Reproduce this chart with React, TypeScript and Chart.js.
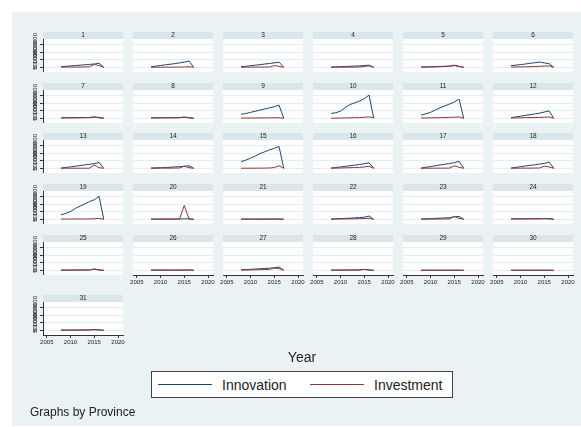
import React, { useEffect, useRef } from "react";
import { Chart, registerables } from "chart.js";

Chart.register(...registerables);

const years = [2008, 2009, 2010, 2011, 2012, 2013, 2014, 2015, 2016, 2017];
const provinces = Array.from({ length: 31 }, (_, i) => String(i + 1));
const yTickValues = [0, 500000, 1000000, 1500000];
const xTickValues = [2005, 2010, 2015, 2020];
const seriesNames = ["Innovation", "Investment"];
const xAxisTitle = "Year";
const noteText = "Graphs by Province";

const innovation: number[][] = [
  [50000, 75000, 100000, 125000, 150000, 175000, 200000, 225000, 275000, 10000],
  [50000, 90000, 130000, 170000, 210000, 250000, 300000, 350000, 425000, 10000],
  [50000, 75000, 110000, 150000, 185000, 225000, 260000, 300000, 350000, 10000],
  [25000, 40000, 50000, 60000, 75000, 90000, 100000, 125000, 150000, 10000],
  [25000, 35000, 45000, 55000, 65000, 75000, 90000, 150000, 75000, 10000],
  [125000, 150000, 190000, 225000, 275000, 310000, 360000, 300000, 250000, 10000],
  [40000, 45000, 50000, 50000, 55000, 60000, 65000, 100000, 60000, 10000],
  [40000, 40000, 45000, 45000, 50000, 50000, 55000, 90000, 50000, 10000],
  [275000, 325000, 400000, 475000, 550000, 625000, 700000, 775000, 875000, 10000],
  [330000, 375000, 485000, 725000, 920000, 1025000, 1150000, 1300000, 1540000, 10000],
  [225000, 300000, 400000, 550000, 700000, 825000, 950000, 1075000, 1275000, 10000],
  [50000, 100000, 150000, 200000, 250000, 300000, 350000, 425000, 500000, 10000],
  [25000, 65000, 105000, 150000, 190000, 230000, 275000, 315000, 400000, 10000],
  [25000, 40000, 50000, 65000, 80000, 100000, 115000, 140000, 175000, 10000],
  [450000, 550000, 675000, 825000, 975000, 1100000, 1225000, 1325000, 1450000, 10000],
  [25000, 60000, 100000, 140000, 180000, 220000, 260000, 310000, 375000, 10000],
  [25000, 75000, 125000, 175000, 225000, 275000, 325000, 375000, 475000, 10000],
  [25000, 70000, 115000, 160000, 200000, 240000, 285000, 330000, 425000, 10000],
  [310000, 400000, 525000, 725000, 875000, 1025000, 1175000, 1300000, 1525000, 10000],
  [25000, 25000, 30000, 30000, 30000, 35000, 35000, 40000, 45000, 10000],
  [25000, 25000, 25000, 25000, 25000, 25000, 25000, 30000, 30000, 10000],
  [25000, 40000, 55000, 70000, 85000, 105000, 125000, 150000, 225000, 10000],
  [25000, 40000, 55000, 70000, 85000, 100000, 115000, 175000, 200000, 10000],
  [40000, 40000, 40000, 45000, 45000, 45000, 50000, 55000, 50000, 10000],
  [25000, 25000, 25000, 30000, 30000, 30000, 35000, 100000, 40000, 10000],
  [25000, 25000, 25000, 25000, 25000, 25000, 25000, 30000, 30000, 10000],
  [50000, 60000, 75000, 90000, 110000, 130000, 150000, 175000, 225000, 10000],
  [25000, 25000, 25000, 30000, 30000, 30000, 35000, 75000, 35000, 10000],
  [15000, 15000, 15000, 15000, 15000, 15000, 15000, 15000, 15000, 10000],
  [15000, 15000, 15000, 15000, 15000, 15000, 15000, 15000, 15000, 10000],
  [25000, 25000, 25000, 25000, 30000, 30000, 35000, 60000, 35000, 10000],
];

const investment: number[][] = [
  [25000, 25000, 25000, 25000, 25000, 30000, 50000, 200000, 125000, 10000],
  [15000, 15000, 15000, 20000, 20000, 20000, 25000, 30000, 50000, 10000],
  [20000, 20000, 20000, 20000, 25000, 25000, 30000, 125000, 75000, 10000],
  [15000, 15000, 20000, 20000, 20000, 25000, 30000, 75000, 100000, 10000],
  [20000, 25000, 30000, 40000, 50000, 60000, 75000, 125000, 60000, 10000],
  [25000, 30000, 35000, 40000, 50000, 60000, 75000, 90000, 100000, 10000],
  [35000, 40000, 40000, 45000, 45000, 50000, 55000, 90000, 50000, 10000],
  [35000, 35000, 40000, 40000, 40000, 45000, 50000, 80000, 45000, 10000],
  [25000, 25000, 30000, 30000, 35000, 35000, 40000, 45000, 50000, 10000],
  [15000, 20000, 25000, 30000, 40000, 50000, 60000, 75000, 100000, 50000],
  [25000, 30000, 40000, 45000, 50000, 60000, 70000, 80000, 100000, 10000],
  [30000, 35000, 40000, 50000, 55000, 60000, 70000, 80000, 100000, 10000],
  [15000, 15000, 15000, 15000, 15000, 15000, 20000, 225000, 50000, 10000],
  [15000, 15000, 20000, 20000, 20000, 25000, 30000, 150000, 50000, 10000],
  [15000, 15000, 15000, 20000, 20000, 25000, 30000, 60000, 175000, 10000],
  [15000, 20000, 30000, 40000, 50000, 60000, 70000, 100000, 140000, 10000],
  [15000, 15000, 15000, 20000, 20000, 20000, 25000, 175000, 75000, 10000],
  [15000, 15000, 20000, 20000, 20000, 25000, 30000, 150000, 100000, 10000],
  [25000, 25000, 25000, 30000, 30000, 30000, 35000, 45000, 75000, 10000],
  [15000, 15000, 15000, 15000, 15000, 20000, 25000, 925000, 25000, 10000],
  [20000, 20000, 20000, 20000, 20000, 20000, 20000, 25000, 25000, 10000],
  [20000, 25000, 30000, 35000, 40000, 45000, 50000, 60000, 75000, 10000],
  [20000, 20000, 25000, 25000, 30000, 30000, 40000, 200000, 75000, 10000],
  [35000, 35000, 35000, 40000, 40000, 40000, 40000, 45000, 45000, 10000],
  [20000, 20000, 20000, 25000, 25000, 25000, 30000, 80000, 35000, 10000],
  [20000, 20000, 20000, 20000, 20000, 20000, 20000, 25000, 25000, 10000],
  [25000, 30000, 35000, 40000, 50000, 60000, 75000, 150000, 125000, 10000],
  [20000, 20000, 20000, 25000, 25000, 25000, 30000, 60000, 30000, 10000],
  [12000, 12000, 12000, 12000, 12000, 12000, 12000, 12000, 12000, 8000],
  [12000, 12000, 12000, 12000, 12000, 12000, 12000, 12000, 12000, 8000],
  [20000, 20000, 20000, 20000, 25000, 25000, 30000, 50000, 30000, 10000],
];

const NAVY = "#1A476F";
const MAROON = "#90353B";
const BG = "#EAF2F3";
const STRIP = "#D9E6EB";
const GRID = "#E4EDF0";
const INK = "#222222";
const FONT = '"Liberation Sans", Arial, Helvetica, sans-serif';

const colX = [43, 133, 223, 313, 403, 493];
const rowTop = [32, 83, 133, 184, 235, 295];
const STRIP_H = 7;
const PLOT_W = 80;
const PLOT_H = 33;
const YAXIS_W = 32;
const XAXIS_H = 22;
const SIDE = 8;

const stripPlugin = {
  id: "strip",
  beforeDraw(chart: any, _args: any, opts: any) {
    const { ctx, chartArea: a } = chart;
    ctx.save();
    ctx.fillStyle = STRIP;
    ctx.fillRect(a.left, a.top - STRIP_H, a.right - a.left, STRIP_H);
    ctx.fillStyle = "#ffffff";
    ctx.fillRect(a.left, a.top, a.right - a.left, a.bottom - a.top);
    ctx.fillStyle = INK;
    ctx.font = `6.5px ${FONT}`;
    ctx.textAlign = "center";
    ctx.textBaseline = "middle";
    ctx.fillText(opts.text, (a.left + a.right) / 2, a.top - STRIP_H / 2);
    ctx.restore();
  },
};

function Panel({ index }: { index: number }) {
  const ref = useRef<HTMLCanvasElement>(null);
  const row = Math.floor(index / 6);
  const col = index % 6;
  const isLeft = col === 0;
  const isBottom = index >= 25;
  const padL = isLeft ? 0 : SIDE;
  const axisW = isLeft ? YAXIS_W : 0;
  const left = colX[col] - axisW - padL;
  const width = padL + axisW + PLOT_W + SIDE;
  const height = STRIP_H + PLOT_H + (isBottom ? XAXIS_H : 0);

  useEffect(() => {
    if (!ref.current) return;
    const chart = new Chart(ref.current, {
      type: "line",
      data: {
        datasets: [
          {
            label: seriesNames[0],
            data: years.map((y, i) => ({ x: y, y: innovation[index][i] })),
            borderColor: NAVY,
            borderWidth: 1,
            pointRadius: 0,
            fill: false,
            tension: 0,
            order: 1,
          },
          {
            label: seriesNames[1],
            data: years.map((y, i) => ({ x: y, y: investment[index][i] })),
            borderColor: MAROON,
            borderWidth: 1,
            pointRadius: 0,
            fill: false,
            tension: 0,
            order: 0,
          },
        ],
      },
      options: {
        animation: false,
        responsive: false,
        maintainAspectRatio: false,
        events: [],
        layout: { padding: { top: STRIP_H, left: padL, right: SIDE, bottom: 0 } },
        plugins: {
          legend: { display: false },
          tooltip: { enabled: false },
          title: { display: false },
          strip: { text: provinces[index] },
        } as any,
        scales: {
          x: {
            type: "linear",
            min: 2004.2,
            max: 2021.05,
            display: isBottom,
            afterBuildTicks: (s: any) => {
              s.ticks = xTickValues.map((v) => ({ value: v }));
            },
            afterFit: (s: any) => {
              s.height = isBottom ? XAXIS_H : 0;
              s.paddingLeft = 0;
              s.paddingRight = 0;
            },
            grid: {
              drawOnChartArea: false,
              drawTicks: true,
              tickLength: 3,
              tickColor: "#333",
            },
            border: { display: true, color: "#333", width: 1 },
            ticks: {
              font: { size: 6, family: FONT },
              color: INK,
              padding: 1,
              maxRotation: 0,
              minRotation: 0,
              autoSkip: false,
              callback: (v: any) => String(v),
            },
          },
          y: {
            type: "linear",
            min: -300000,
            max: 1875000,
            display: true,
            afterBuildTicks: (s: any) => {
              s.ticks = yTickValues.map((v) => ({ value: v }));
            },
            afterFit: (s: any) => {
              s.width = axisW;
              s.paddingTop = 0;
              s.paddingBottom = 0;
            },
            grid: {
              color: GRID,
              lineWidth: 1,
              drawTicks: isLeft,
              tickLength: 3,
              tickColor: "#333",
            },
            border: { display: isLeft, color: "#333", width: 1 },
            ticks: {
              display: isLeft,
              minRotation: 90,
              maxRotation: 90,
              crossAlign: "center",
              padding: -7,
              autoSkip: false,
              font: { size: 6, family: FONT },
              color: INK,
              callback: (v: any) => String(v),
            },
          },
        },
      } as any,
      plugins: [stripPlugin as any],
    });
    return () => chart.destroy();
  }, [index]);

  return (
    <canvas
      ref={ref}
      width={width}
      height={height}
      style={{
        position: "absolute",
        left,
        top: rowTop[row],
        width,
        height,
      }}
    />
  );
}

export default function App() {
  const text = (extra: React.CSSProperties): React.CSSProperties => ({
    position: "absolute",
    fontFamily: FONT,
    color: INK,
    whiteSpace: "nowrap",
    ...extra,
  });
  return (
    <div
      style={{
        position: "absolute",
        left: 0,
        top: 0,
        width: 581,
        height: 427,
        background: "#ffffff",
        overflow: "hidden",
      }}
    >
      <div
        style={{
          position: "absolute",
          left: 12,
          top: 12,
          width: 569,
          height: 414,
          background: BG,
        }}
      />
      {provinces.map((_, i) => (
        <Panel key={i} index={i} />
      ))}
      <div
        style={text({
          left: 302,
          top: 349,
          fontSize: 14,
          lineHeight: "16px",
          transform: "translateX(-50%)",
        })}
      >
        {xAxisTitle}
      </div>
      <div
        style={{
          position: "absolute",
          left: 151,
          top: 371,
          width: 302,
          height: 27,
          boxSizing: "border-box",
          border: "1px solid #404040",
          background: "#ffffff",
        }}
      />
      <div style={{ position: "absolute", left: 158, top: 384, width: 54, height: 1, background: NAVY }} />
      <div style={text({ left: 222, top: 377, fontSize: 14, lineHeight: "16px" })}>{seriesNames[0]}</div>
      <div style={{ position: "absolute", left: 310, top: 384, width: 54, height: 1, background: MAROON }} />
      <div style={text({ left: 374, top: 377, fontSize: 14, lineHeight: "16px" })}>{seriesNames[1]}</div>
      <div style={text({ left: 30, top: 405, fontSize: 12, lineHeight: "14px" })}>{noteText}</div>
    </div>
  );
}
